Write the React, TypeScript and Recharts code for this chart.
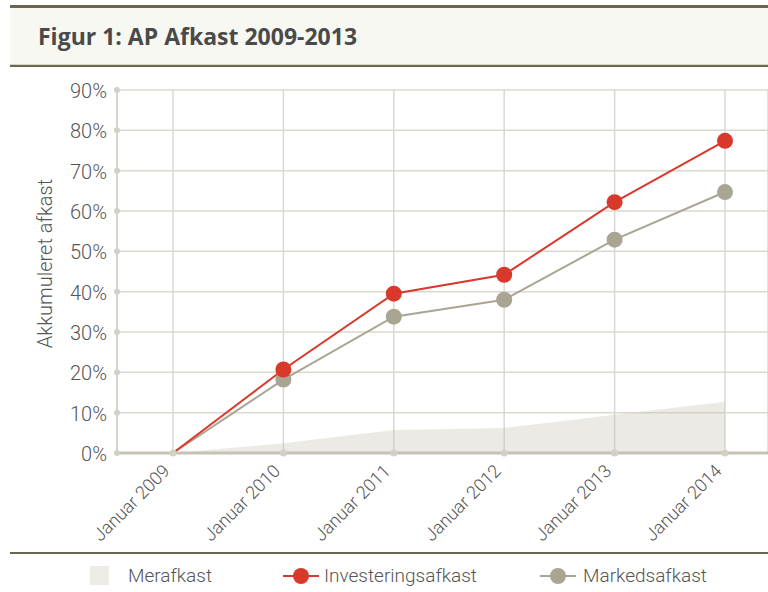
import { ComposedChart, Line, Area, XAxis, YAxis, CartesianGrid } from 'recharts';

const years = ['Januar 2009', 'Januar 2010', 'Januar 2011', 'Januar 2012', 'Januar 2013', 'Januar 2014'];
const investering = [0, 20.7, 39.5, 44.2, 62.2, 77.4];
const marked = [0, 18.2, 33.8, 38.0, 52.9, 64.7];
const merafkast = [0, 2.4, 5.7, 6.2, 9.5, 12.7];
const yTicks = [0, 10, 20, 30, 40, 50, 60, 70, 80, 90];

const data = years.map((year, i) => ({
  year,
  investering: investering[i],
  marked: marked[i],
  merafkast: merafkast[i],
}));

const FONT = 'Roboto, "Open Sans", sans-serif';
const TEXT = '#555555';
const GRID = '#dbd8cf';
const OLIVE = '#6b6650';

const YTick = (props: any) => {
  const { x, y, payload } = props;
  return (
    <g>
      <circle cx={x + 10} cy={y} r={3} fill="#d3d0c5" />
      <text x={x} y={y} dy={8} textAnchor="end" fill={TEXT} fontSize={20} fontWeight={300} fontFamily={FONT}>
        {payload.value}%
      </text>
    </g>
  );
};

const XTick = (props: any) => {
  const { x, y, payload } = props;
  return (
    <g transform={`translate(${x},${y})`}>
      <circle r={3.5} fill="#d3d0c5" />
      <text x={-15} y={12} textAnchor="end" transform="rotate(-45)" fill={TEXT} fontSize={18} fontWeight={300} fontFamily={FONT}>
        {payload.value}
      </text>
    </g>
  );
};

const makeDot = (color: string) => (props: any) => {
  const { cx, cy, index } = props;
  if (index === 0) return <g key={`d${index}`} />;
  return <circle key={`d${index}`} cx={cx} cy={cy} r={8} fill={color} />;
};

const legendText = { position: 'absolute' as const, top: 564, fontSize: 19, fontWeight: 300, color: TEXT, fontFamily: FONT, lineHeight: '24px' };

export default function App() {
  return (
    <div style={{ position: 'absolute', left: 0, top: 0, width: 768, height: 592, background: '#fff', fontFamily: FONT, overflow: 'hidden' }}>
      <div style={{ position: 'absolute', left: 10, top: 5, width: 758, height: 3, background: OLIVE }} />
      <div style={{ position: 'absolute', left: 10, top: 8, width: 758, height: 56, background: '#f8f8f3', borderBottom: '1px solid #d8d6cc' }} />
      <div style={{ position: 'absolute', left: 10, top: 65, width: 758, height: 2, background: OLIVE }} />
      <div style={{ position: 'absolute', left: 38, top: 21, fontSize: 23, fontWeight: 700, color: '#4a4a4a', fontFamily: '"Open Sans", sans-serif', lineHeight: '30px' }}>
        Figur 1: AP Afkast 2009-2013
      </div>

      <div style={{ position: 'absolute', left: 0, top: 70 }}>
        <ComposedChart width={768} height={480} data={data} margin={{ top: 20, right: 0, bottom: 17, left: 0 }}>
          <CartesianGrid stroke={GRID} strokeWidth={1.5} />
          <XAxis
            dataKey="year"
            scale="point"
            padding={{ left: 56, right: 43 }}
            height={80}
            tickSize={0}
            tickMargin={0}
            tickLine={false}
            axisLine={{ stroke: '#c6c2b4', strokeWidth: 3 }}
            tick={<XTick />}
            interval={0}
          />
          <YAxis
            domain={[0, 90]}
            ticks={yTicks}
            width={117}
            tickSize={0}
            tickMargin={10}
            tickLine={false}
            axisLine={{ stroke: '#d3d0c5', strokeWidth: 1.5 }}
            tick={<YTick />}
            label={{ value: 'Akkumuleret afkast', angle: -90, position: 'center', dx: -14, dy: -8, fill: TEXT, fontSize: 20, fontWeight: 300, fontFamily: FONT }}
          />
          <Area type="linear" dataKey="merafkast" fill="#c6c2b4" fillOpacity={0.35} stroke="none" isAnimationActive={false} />
          <Line type="linear" dataKey="marked" stroke="#aaa493" strokeWidth={2} dot={makeDot('#aaa493')} activeDot={false} isAnimationActive={false} />
          <Line type="linear" dataKey="investering" stroke="#d9392b" strokeWidth={2} dot={makeDot('#d9392b')} activeDot={false} isAnimationActive={false} />
        </ComposedChart>
      </div>

      <div style={{ position: 'absolute', left: 10, top: 552, width: 758, height: 2, background: OLIVE }} />

      <div style={{ position: 'absolute', left: 90, top: 566, width: 19, height: 19, background: '#ecebe6' }} />
      <div style={{ ...legendText, left: 128 }}>Merafkast</div>
      <svg style={{ position: 'absolute', left: 283, top: 566 }} width={36} height={20}>
        <line x1={0} y1={10} x2={36} y2={10} stroke="#d9392b" strokeWidth={2} />
        <circle cx={18} cy={10} r={8} fill="#d9392b" />
      </svg>
      <div style={{ ...legendText, left: 324 }}>Investeringsafkast</div>
      <svg style={{ position: 'absolute', left: 540, top: 566 }} width={36} height={20}>
        <line x1={0} y1={10} x2={36} y2={10} stroke="#aaa493" strokeWidth={2} />
        <circle cx={18} cy={10} r={8} fill="#aaa493" />
      </svg>
      <div style={{ ...legendText, left: 583 }}>Markedsafkast</div>
    </div>
  );
}
